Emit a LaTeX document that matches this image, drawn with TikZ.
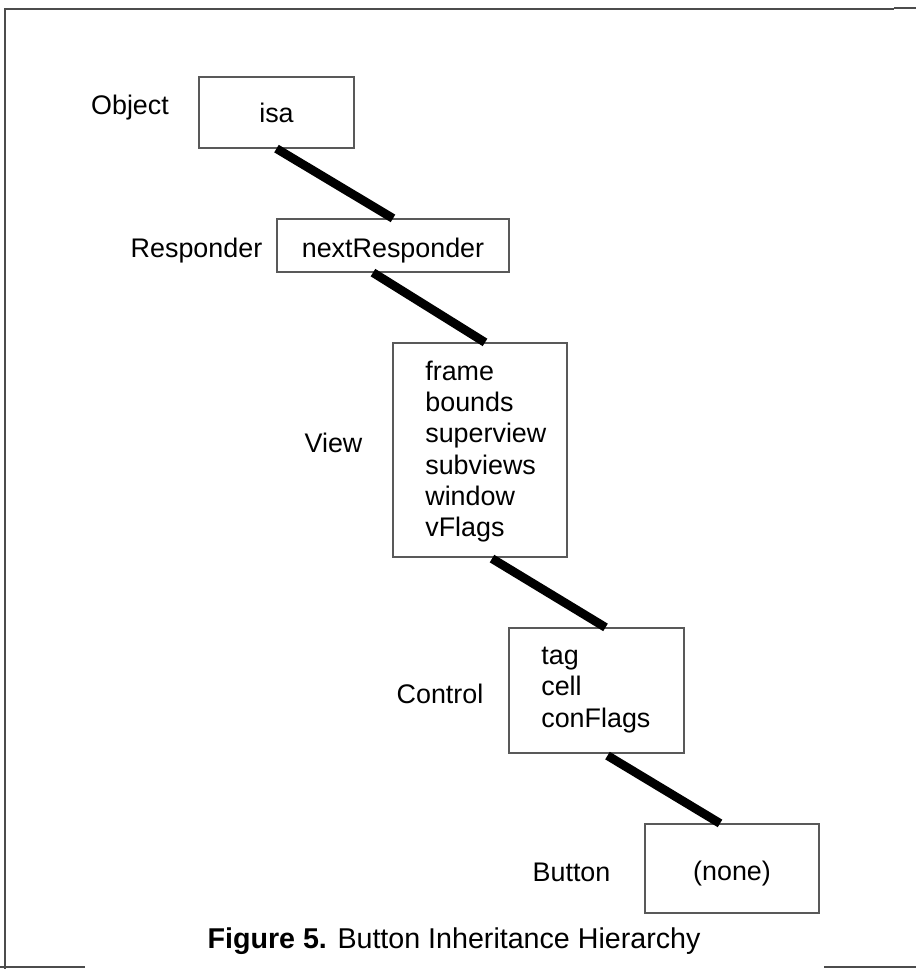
\documentclass[tikz,border=0pt]{standalone}
\usepackage{fontspec}
\setmainfont{Liberation Sans}
\usetikzlibrary{calc}

\definecolor{framegray}{gray}{0.3}
\definecolor{boxgray}{gray}{0.35}

\begin{document}
\begin{tikzpicture}[x=0.02cm, y=-0.02cm,
		every node/.style={font=\fontsize{15.3}{17.8}\selectfont},
		classbox/.style={draw=boxgray, line width=0.7pt, inner sep=0pt},
		lowtext/.style={text height=16.8pt, text depth=3.2pt},
		fields/.style={anchor=west, align=left, inner sep=0pt},
		link/.style={line width=5pt, black}]
			\useasboundingbox (0,0) rectangle (916,969);
			
			% Draw the page frame
			\draw[framegray, line width=1pt] (5,969) -- (5,9) -- (894,9);
			\draw[framegray, line width=1.6pt] (894,8) -- (916,8);
			\draw[framegray, line width=1pt] (0,967) -- (85,967);
			\draw[framegray, line width=1pt] (824,967) -- (916,967);
			
			% Draw the class boxes
			\node[classbox, minimum width=3.1cm, minimum height=1.42cm] (obj) at (276.5,112.5) {isa};
			\node[classbox, lowtext, minimum width=4.64cm, minimum height=1.06cm] (resp) at (393,245.5) {nextResponder};
			\node[classbox, minimum width=3.48cm, minimum height=4.28cm] (view) at (480,450) {};
			\node[classbox, minimum width=3.5cm, minimum height=2.5cm] (ctrl) at (596.5,690.5) {};
			\node[classbox, lowtext, minimum width=3.48cm, minimum height=1.78cm] (btn) at (732,868.5) {(none)};
			
			% Instance variables
			\node[fields] (viewvars) at (425,451.5) {frame\\bounds\\superview\\subviews\\window\\vFlags};
			\node[fields] (ctrlvars) at (541,690) {tag\\cell\\conFlags};
			
			% Labels for classes
			\node[anchor=base] (objname) at (130,115) {Object};
			\node[anchor=base] (respname) at (196.5,257) {Responder};
			\node[anchor=base] (viewname) at (333.5,452) {View};
			\node[anchor=base] (ctrlname) at (440,703) {Control};
			\node[anchor=base] (btnname) at (571.5,881) {Button};
			
			% Draw the inheritance links
			\draw[link] (obj.south) -- (resp.north);
			\draw[link] ($(resp.south)+(-20,0)$) -- ($(view.north)+(5,0)$);
			\draw[link] ($(view.south)+(12,1)$) -- ($(ctrl.north)+(9,0)$);
			\draw[link] ($(ctrl.south)+(11,2)$) -- ($(btn.north)+(-12,0)$);
			
			% Caption
			\node[anchor=base, font=\fontsize{16.3}{19}\selectfont] (caption) at (454,948) {\textbf{Figure 5.} Button Inheritance Hierarchy};
	\end{tikzpicture}
\end{document}
